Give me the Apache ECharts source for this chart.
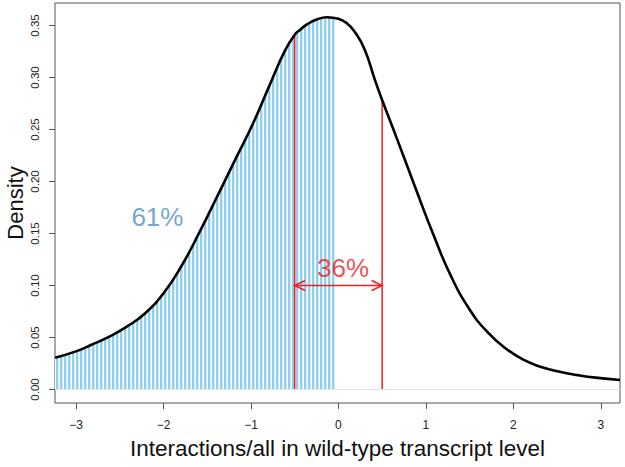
<!DOCTYPE html>
<html><head><meta charset="utf-8">
<script src="https://cdn.jsdelivr.net/npm/echarts@6/dist/echarts.min.js"></script>
<style>html,body{margin:0;padding:0;background:#fff}#c{width:625px;height:467px}</style>
</head><body><div id="c"></div>
<script>
// ---- data ----
const curveX = [-3.241, -3.01, -2.83, -2.62, -2.42, -2.21, -2.0, -1.8, -1.59, -1.39, -1.18, -0.97, -0.77, -0.61, -0.5, -0.44, -0.36, -0.25, -0.13, 0.0, 0.1, 0.19, 0.3, 0.42, 0.5, 0.67, 0.88, 1.09, 1.29, 1.5, 1.7, 1.91, 2.12, 2.32, 2.53, 2.74, 2.94, 3.22];
const curveY = [0.0306, 0.0364, 0.0428, 0.0508, 0.0604, 0.0733, 0.0925, 0.118, 0.151, 0.185, 0.221, 0.257, 0.296, 0.326, 0.341, 0.3457, 0.351, 0.3557, 0.358, 0.3565, 0.352, 0.3435, 0.327, 0.297, 0.2784, 0.241, 0.194, 0.148, 0.1085, 0.077, 0.0556, 0.0396, 0.0284, 0.0217, 0.0171, 0.0138, 0.0114, 0.0091];
const shadeEndX = -0.03;
const shadeEndY = 0.357;
const redLineX = [-0.5, 0.5];
const redLineTop = [0.341, 0.2784];
const arrowY = 0.10;
const xTicks = [-3, -2, -1, 0, 1, 2, 3];
const xTickLabels = ['\u22123', '\u22122', '\u22121', '0', '1', '2', '3'];
const yTicks = [0, 0.05, 0.10, 0.15, 0.20, 0.25, 0.30, 0.35];
const yTickLabels = ['0.00', '0.05', '0.10', '0.15', '0.20', '0.25', '0.30', '0.35'];
const noteTexts = ['61%', '36%'];
const noteX = [-2.07, 0.053];
const noteY = [0.166, 0.117];
const xTitle = 'Interactions/all in wild-type transcript level';
const yTitle = 'Density';

// ---- build ----
const FONT = '"Liberation Sans", Arial, sans-serif';
const RED = '#ee1f1f';
const BLUE_TXT = '#4f8fc8';
const curveData = curveX.map((x, i) => [x, curveY[i]]);
const shadeData = curveData.filter(p => p[0] < shadeEndX).concat([[shadeEndX, shadeEndY]]);
const noteData = noteX.map((x, i) => ({value: [x, noteY[i]], label: {color: i === 0 ? BLUE_TXT : RED}}));

const pc = document.createElement('canvas');
pc.width = 4; pc.height = 4;
const g = pc.getContext('2d');
g.fillStyle = '#ffffff'; g.fillRect(0, 0, 4, 4);
g.fillStyle = '#8fd0ec'; g.fillRect(0, 0, 2, 4);
g.fillStyle = '#d2ecf7'; g.fillRect(2, 0, 1, 4);
const patternURL = pc.toDataURL();

const chart = echarts.init(document.getElementById('c'), null, {renderer: 'svg'});
const idx = (arr, v) => arr.findIndex(t => Math.abs(t - v) < 1e-9);

chart.setOption({
  animation: false,
  backgroundColor: '#fff',
  grid: {left: 55, right: 5, top: 3, bottom: 64, show: true, borderColor: '#555', borderWidth: 1, backgroundColor: 'transparent', outerBoundsMode: 'none'},
  xAxis: {
    type: 'value', min: -3.241, max: 3.220,
    axisLine: {show: false, onZero: false}, splitLine: {show: false},
    axisTick: {show: true, length: 6, customValues: xTicks, lineStyle: {color: '#555'}},
    axisLabel: {customValues: xTicks, formatter: v => xTickLabels[idx(xTicks, v)], fontSize: 12, color: '#222', margin: 16, fontFamily: FONT},
    name: xTitle, nameLocation: 'middle', nameGap: 34,
    nameTextStyle: {fontSize: 22.5, color: '#111', fontFamily: FONT}
  },
  yAxis: {
    type: 'value', min: -0.01298, max: 0.37163,
    axisLine: {show: false, onZero: false}, splitLine: {show: false},
    axisTick: {show: true, length: 6, customValues: yTicks, lineStyle: {color: '#555'}},
    axisLabel: {customValues: yTicks, formatter: v => yTickLabels[idx(yTicks, v)], rotate: 90, fontSize: 11.5, color: '#222', margin: 14, fontFamily: FONT},
    name: yTitle, nameLocation: 'middle', nameGap: 29, nameMoveOverlap: false,
    nameTextStyle: {fontSize: 22, lineHeight: 22, color: '#111', fontFamily: FONT}
  },
  series: [
    {
      type: 'line', data: shadeData, smooth: 0.5, symbol: 'none', z: 1,
      lineStyle: {width: 0, opacity: 0},
      areaStyle: {color: {image: patternURL, repeat: 'repeat', imageWidth: 4, imageHeight: 4}, opacity: 1},
      markLine: {silent: true, symbol: 'none', label: {show: false}, data: [{yAxis: 0}], lineStyle: {color: '#e3e3e3', width: 1, type: 'solid'}}
    },
    {
      type: 'custom', z: 2, data: [[0, 0]], encode: {x: 0, y: 1},
      renderItem: function (params, api) {
        const children = [];
        for (let i = 0; i < redLineX.length; i++) {
          const p0 = api.coord([redLineX[i], 0]);
          const p1 = api.coord([redLineX[i], redLineTop[i]]);
          children.push({type: 'line', shape: {x1: p0[0], y1: p0[1], x2: p1[0], y2: p1[1]}, style: {stroke: RED, lineWidth: 1.5}});
        }
        const a = api.coord([redLineX[0], arrowY]);
        const b = api.coord([redLineX[1], arrowY]);
        const L = 10.5, H = 5;
        children.push({type: 'line', shape: {x1: a[0], y1: a[1], x2: b[0], y2: b[1]}, style: {stroke: RED, lineWidth: 1.5}});
        children.push({type: 'polyline', shape: {points: [[a[0] + L, a[1] - H], [a[0], a[1]], [a[0] + L, a[1] + H]]}, style: {stroke: RED, fill: null, lineWidth: 1.5}});
        children.push({type: 'polyline', shape: {points: [[b[0] - L, b[1] - H], [b[0], b[1]], [b[0] - L, b[1] + H]]}, style: {stroke: RED, fill: null, lineWidth: 1.5}});
        return {type: 'group', children: children};
      }
    },
    {
      type: 'line', data: curveData, smooth: 0.5, symbol: 'none', z: 3,
      lineStyle: {color: '#000', width: 2.6}
    },
    {
      type: 'scatter', data: noteData, symbolSize: 0, z: 4, silent: true,
      label: {
        show: true, position: 'inside', fontSize: 26, fontFamily: FONT,
        formatter: p => noteTexts[p.dataIndex]
      },
      itemStyle: {color: 'transparent'}
    }
  ]
});
</script>
</body></html>
